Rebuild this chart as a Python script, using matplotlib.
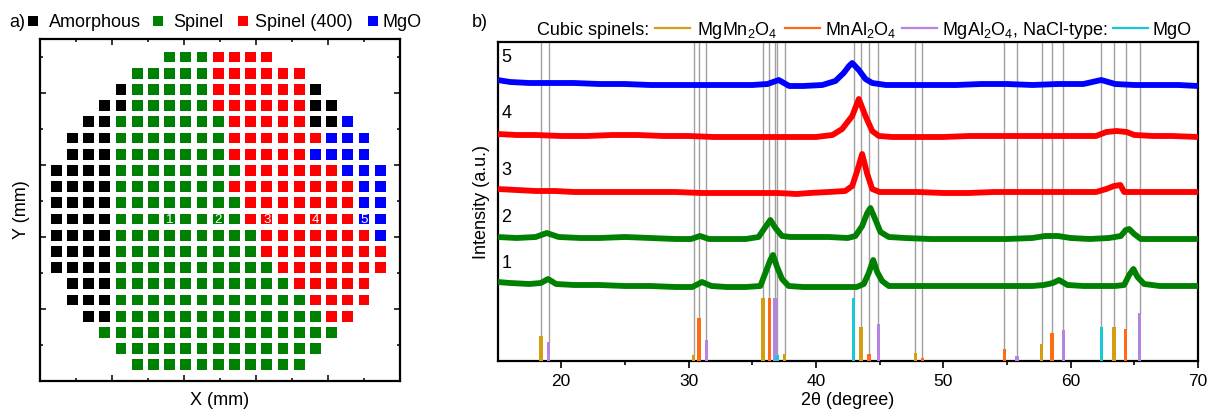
import matplotlib
matplotlib.use('Agg')
import matplotlib.pyplot as plt
from matplotlib.patches import Rectangle
from matplotlib.lines import Line2D

plt.rcParams['font.family'] = ['Liberation Sans', 'DejaVu Sans']
plt.rcParams['mathtext.fontset'] = 'custom'
plt.rcParams['mathtext.rm'] = 'Liberation Sans'
plt.rcParams['mathtext.it'] = 'Liberation Sans:italic'

# ---------------- Panel a data: phase map (K=amorphous, G=spinel, R=spinel(400), B=MgO)
grid_rows = [
    ".......GGGRRRR.......",
    ".....GGGGGRRRRRR.....",
    "....KGGGGGRRRRRRK....",
    "...KKGGGGGRRRRRRKK...",
    "..KKGGGGGGGRRRRRKKB..",
    ".KKKGGGGGGGRRRRRRBBB.",
    ".KKKGGGGGGGRRRRRBBBB.",
    "KKKKGGGGGGGGRRRRRRBBB",
    "KKKKGGGGGGGRRRRRRRRBB",
    "KKKKGGGGGGGGRRRRRRRBB",
    "KKKKGGGGGGGGRRRRRRRBB",
    "KKKKGGGGGGGGGRRRRRRRB",
    "KKKKGGGGGGGGGRRRRRRRR",
    "KKKKGGGGGGGGGGRRRRRRR",
    ".KKKGGGGGGGGGGGRRRRR.",
    ".KKKGGGGGGGGGGGGRRRR.",
    "..KKGGGGGGGGGGGGGRR..",
    "...GGGGGGGGGGGGGGG...",
    "....GGGGGGGGGGGGG....",
    ".....GGGGGGGGGGG.....",
]
phase_names = ["Amorphous", "Spinel", "Spinel (400)", "MgO"]
phase_codes = ["K", "G", "R", "B"]
phase_colors = ["#000000", "#008000", "#FF0000", "#0000FF"]
label_row = 10
label_cols = [7, 10, 13, 16, 19]
label_texts = ["1", "2", "3", "4", "5"]
pitch_mm = 2.25

# ---------------- Panel b data: XRD patterns (sample 1..5)
x1 = [15.0, 16.0, 17.5, 18.4, 18.97, 19.6, 21.0, 23.0, 25.0, 27.0, 29.0, 30.3, 31.05, 31.8, 33.0, 34.5,
      35.64, 36.03, 36.42, 36.63, 36.95, 37.34, 37.86, 39.0, 40.5, 42.0, 43.2, 43.76, 44.15, 44.5, 44.81,
      45.2, 45.72, 47.0, 49.0, 51.0, 53.0, 55.0, 57.0, 57.9, 58.6, 59.09, 59.75, 61.0, 62.5, 63.5, 64.2,
      64.59, 64.93, 65.25, 65.77, 67.0, 68.5, 70.0]
I1 = [24, 23, 22, 23, 27, 22, 21, 21, 20, 20, 19, 19, 24, 20, 19, 19,
      20, 33, 46, 51, 39, 27, 20, 19, 19, 19, 19, 22, 33, 46, 34, 25,
      20, 20, 20, 20, 20, 20, 20, 21, 23, 26, 21, 20, 20, 20, 21,
      31, 37, 29, 22, 20, 20, 20]

x2 = [15.0, 16.5, 18.0, 18.87, 19.8, 21.5, 23.0, 25.0, 27.0, 29.0, 30.2, 30.9, 31.6, 33.0, 34.5,
      35.5, 36.03, 36.42, 36.82, 37.34, 38.0, 39.5, 41.0, 42.5, 43.1, 43.63, 44.03, 44.28, 44.68, 45.07,
      45.72, 47.0, 49.0, 51.0, 53.0, 55.0, 57.0, 58.0, 59.0, 60.0, 61.5, 63.0, 63.94, 64.33, 64.59,
      64.99, 65.51, 67.0, 68.5, 70.0]
I2 = [21, 20, 21, 25, 21, 20, 20, 21, 20, 19, 19, 22, 19, 19, 19,
      21, 31, 38, 30, 22, 21, 21, 21, 20, 22, 32, 45, 50, 38, 26,
      21, 20, 19, 19, 19, 19, 20, 22, 22, 20, 19, 20, 22, 28, 29,
      24, 19, 19, 19, 19]

x3 = [15.0, 16.5, 18.0, 19.5, 21.0, 23.0, 25.0, 27.0, 29.0, 31.0, 33.0, 35.0, 37.0, 38.5, 39.5,
      41.0, 42.3, 42.85, 43.24, 43.63, 44.03, 44.42, 45.0, 46.5, 48.0, 50.0, 52.0, 54.0, 56.0, 58.0,
      60.0, 62.0, 62.8, 63.4, 63.9, 64.2, 65.0, 66.5, 68.0, 70.0]
I3 = [23, 22, 21, 21, 20, 20, 20, 20, 20, 19, 19, 19, 19, 18, 19,
      20, 21, 26, 41, 58, 38, 23, 20, 20, 20, 19, 19, 20, 20, 20,
      20, 20, 23, 26, 27, 20, 20, 20, 20, 20]

x4 = [15.0, 16.5, 18.0, 20.0, 22.0, 24.0, 26.0, 28.0, 30.0, 32.0, 34.0, 36.0, 38.0, 40.0, 41.3,
      42.06, 42.85, 43.37, 43.89, 44.42, 44.94, 46.0, 48.0, 50.0, 52.0, 54.0, 56.0, 58.0, 60.0, 62.0,
      62.8, 63.6, 64.4, 65.0, 66.5, 68.0, 70.0]
I4 = [22, 21, 21, 20, 20, 21, 21, 20, 20, 19, 19, 19, 19, 19, 21,
      27, 40, 57, 40, 25, 20, 19, 19, 19, 20, 20, 20, 20, 20, 20,
      24, 25, 24, 21, 20, 20, 19]

x5 = [15.0, 16.0, 17.5, 19.0, 21.0, 23.0, 25.0, 27.0, 29.0, 31.0, 33.0, 35.0, 36.2, 37.08, 37.9,
      39.0, 40.5, 41.53, 42.18, 42.6, 42.85, 43.37, 43.89, 44.42, 45.5, 47.0, 49.0, 51.0, 53.0, 55.0,
      57.0, 59.0, 61.0, 62.4, 63.5, 65.0, 67.0, 68.5, 70.0]
I5 = [24, 22, 21, 21, 21, 20, 20, 19, 19, 19, 19, 19, 20, 24, 18,
      18, 19, 23, 31, 38, 41, 34, 25, 21, 19, 19, 19, 19, 20, 20,
      19, 20, 20, 24, 20, 19, 19, 19, 18]

patterns_x = [x1, x2, x3, x4, x5]
patterns_I = [I1, I2, I3, I4, I5]
pattern_labels = ["1", "2", "3", "4", "5"]
pattern_colors = ["#008000", "#008000", "#FF0000", "#FF0000", "#0000FF"]
pattern_offsets = [55, 103, 149, 205, 257]

# reference lines (2theta, relative height)
ref_MgMn2O4_pos = [18.42, 30.39, 35.85, 37.55, 43.55, 47.8, 57.73, 63.41]
ref_MgMn2O4_h = [25, 6, 63, 7, 34, 8, 17, 34]
ref_MnAl2O4_pos = [30.82, 36.35, 44.18, 48.35, 54.8, 58.54, 64.33]
ref_MnAl2O4_h = [43, 63, 7, 3, 12, 28, 32]
ref_MgAl2O4_pos = [19.02, 31.39, 36.79, 44.89, 55.79, 59.43, 65.43]
ref_MgAl2O4_h = [19, 21, 63, 37, 5, 31, 48]
ref_MgO_pos = [36.95, 42.97, 62.42]
ref_MgO_h = [6, 63, 34]
ref_sets = [(ref_MgMn2O4_pos, ref_MgMn2O4_h, "#D19E14"),
            (ref_MnAl2O4_pos, ref_MnAl2O4_h, "#FF6A13"),
            (ref_MgAl2O4_pos, ref_MgAl2O4_h, "#B683E4"),
            (ref_MgO_pos, ref_MgO_h, "#19C8D2")]

# ---------------- Figure
W, H = 1210, 410
fig = plt.figure(figsize=(W / 100, H / 100), dpi=100)


def fx(px):
    return px / W


def fy(py):
    return 1 - py / H


FS = 13

# ----- Panel a
axa = fig.add_axes([fx(40), fy(382), 360 / W, 342 / H])
axa.set_xlim(0, 50)
axa.set_ylim(0, 47.5)
sq = 1.5
cmap = dict(zip(phase_codes, phase_colors))
nrows = len(grid_rows)
for r, row in enumerate(grid_rows):
    for c, ch in enumerate(row):
        if ch in cmap:
            xc = pitch_mm * (c + 1)
            yc = pitch_mm * (nrows - r)
            axa.add_patch(Rectangle((xc - sq / 2, yc - sq / 2), sq, sq,
                                    facecolor=cmap[ch], edgecolor='none'))
for c, t in zip(label_cols, label_texts):
    axa.text(pitch_mm * (c + 1), pitch_mm * (nrows - label_row), t, color='white',
             ha='center', va='center', fontsize=9.5)
axa.set_xticks([10, 20, 30, 40])
axa.set_xticks([5, 15, 25, 35, 45], minor=True)
axa.set_yticks([10, 20, 30, 40])
axa.set_yticks([5, 15, 25, 35, 45], minor=True)
axa.tick_params(which='both', direction='in', top=True, right=True,
                labelbottom=False, labelleft=False, width=1.1)
axa.tick_params(which='major', length=4)
axa.tick_params(which='minor', length=2.5)
for s in axa.spines.values():
    s.set_linewidth(1.6)

fig.text(fx(9), fy(27), "a)", fontsize=FS, va='baseline')
leg_sq_x = [28, 153, 238, 368]
leg_txt_x = [49, 173, 255, 383]
for sx, tx, name, col in zip(leg_sq_x, leg_txt_x, phase_names, phase_colors):
    fig.add_artist(Rectangle((fx(sx), fy(27)), 10 / W, 10 / H, transform=fig.transFigure,
                             facecolor=col, edgecolor='none'))
    fig.text(fx(tx), fy(27), name, fontsize=FS, va='baseline')

fig.text(fx(220), fy(405), "X (mm)", fontsize=FS, ha='center', va='baseline')
fig.text(fx(22), fy(210), "Y (mm)", fontsize=FS, ha='center', va='center', rotation=90)

# ----- Panel b
axb = fig.add_axes([fx(497.5), fy(362), (1198 - 497.5) / W, 319 / H])
axb.set_xlim(15, 70)
axb.set_ylim(0, 319)

for pos, h, col in ref_sets:
    for p, hh in zip(pos, h):
        axb.plot([p, p], [hh, 319], color='#A0A0A0', lw=1.0, zorder=1)
    axb.bar(pos, h, width=0.26, color=col, zorder=4, linewidth=0)

for xs, Is, col, off in zip(patterns_x, patterns_I, pattern_colors, pattern_offsets):
    axb.plot(xs, [v + off for v in Is], color=col, lw=4.2, zorder=3,
             solid_joinstyle='round', solid_capstyle='butt')

label_y = [98, 144, 191, 248, 304]
for t, yv in zip(pattern_labels, label_y):
    axb.text(15.3, yv, t, fontsize=FS, ha='left', va='center', zorder=5)

axb.set_xticks([20, 30, 40, 50, 60, 70])
axb.set_xticks([25, 35, 45, 55, 65], minor=True)
axb.set_yticks([])
axb.tick_params(which='both', direction='out', width=1.2, labelsize=12.5, pad=4)
axb.tick_params(which='major', length=5)
axb.tick_params(which='minor', length=3)
for s in axb.spines.values():
    s.set_linewidth(1.6)

fig.text(fx(472), fy(27), "b)", fontsize=FS, va='baseline')
fig.text(fx(848), fy(405), "2θ (degree)", fontsize=FS, ha='center', va='baseline')
fig.text(fx(481), fy(202), "Intensity (a.u.)", fontsize=FS, ha='center', va='center', rotation=90)

# legend of panel b
ly = fy(29)
fig.text(fx(537), fy(35), "Cubic spinels:", fontsize=FS, va='baseline')
leg_items = [
    (655, 690, 697, "MgMn$_\\mathregular{2}$O$_\\mathregular{4}$", "#D19E14"),
    (785, 820, 825, "MnAl$_\\mathregular{2}$O$_\\mathregular{4}$", "#FF6A13"),
    (902, 937, 942, "MgAl$_\\mathregular{2}$O$_\\mathregular{4}$, NaCl-type:", "#B683E4"),
    (1113, 1148, 1153, "MgO", "#19C8D2"),
]
for x0, x1_, tx, txt, col in leg_items:
    fig.add_artist(Line2D([fx(x0), fx(x1_)], [ly, ly], transform=fig.transFigure,
                          color=col, lw=1.6))
    fig.text(fx(tx), fy(35), txt, fontsize=FS, va='baseline')

fig.savefig("out.png", dpi=100)
